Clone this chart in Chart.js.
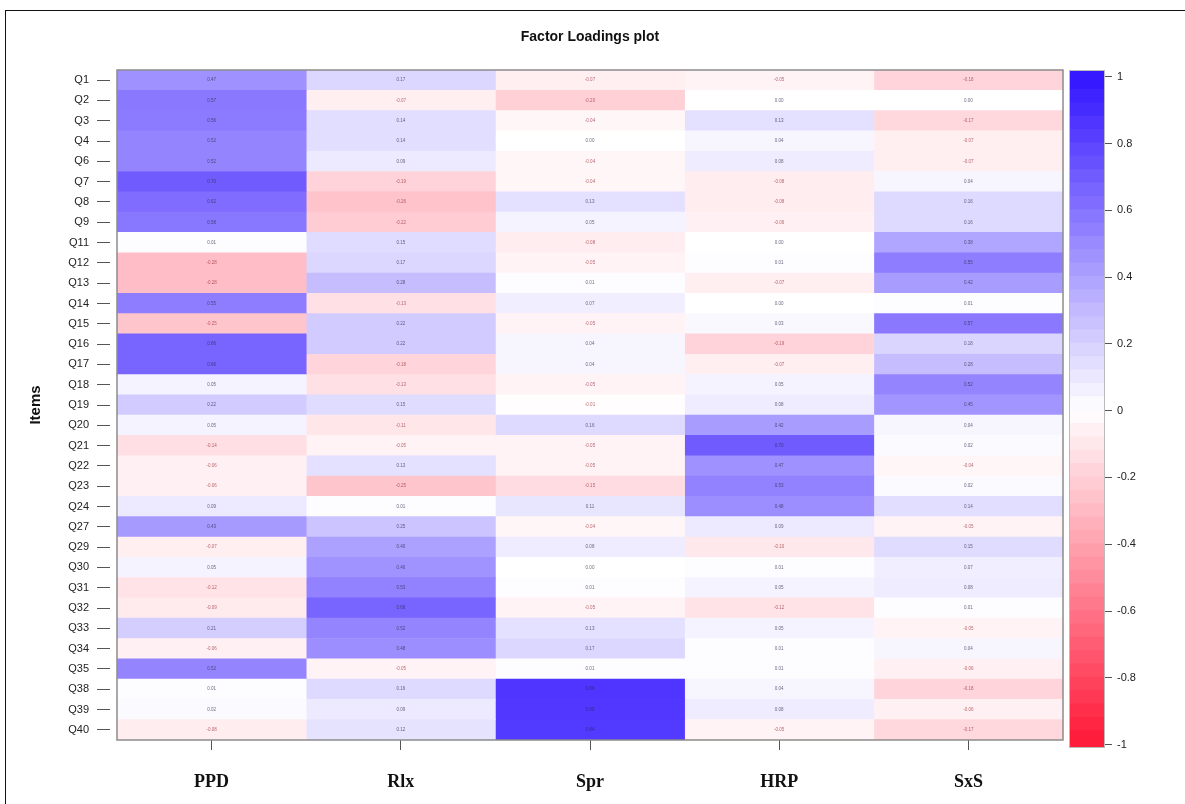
<!DOCTYPE html>
<html><head><meta charset="utf-8">
<script src="https://cdn.jsdelivr.net/npm/chart.js@4.4.1/dist/chart.umd.min.js"></script>
<style>
html,body{margin:0;padding:0;background:#fff;}
#wrap{position:relative;width:1185px;height:804px;overflow:hidden;background:#fff;}
#frame{position:absolute;left:5px;top:10px;width:1200px;height:820px;border-top:1.5px solid #111;border-left:1.5px solid #111;}
canvas{position:absolute;left:0;top:0;}
</style></head><body>
<div id="wrap"><div id="frame"></div>
<canvas id="main" width="1185" height="804"></canvas>
<canvas id="bar" width="1185" height="804"></canvas>
</div>
<script>
const titleText = 'Factor Loadings plot';
const yTitle = 'Items';
const items = ['Q1','Q2','Q3','Q4','Q6','Q7','Q8','Q9','Q11','Q12','Q13','Q14','Q15','Q16','Q17','Q18','Q19','Q20','Q21','Q22','Q23','Q24','Q27','Q29','Q30','Q31','Q32','Q33','Q34','Q35','Q38','Q39','Q40'];
const factors = ['PPD','Rlx','Spr','HRP','SxS'];
const PPD = [0.47,0.57,0.56,0.52,0.52,0.70,0.62,0.58, 0.01,-0.28,-0.28,0.55,-0.25,0.66,0.66,0.05,0.22, 0.05,-0.14,-0.06,-0.06,0.09, 0.43,-0.07,0.05,-0.12,-0.09,0.21,-0.06,0.52, 0.01,0.02,-0.08];
const Rlx = [0.17,-0.07,0.14,0.14,0.09,-0.19,-0.26,-0.22, 0.15,0.17,0.28,-0.13,0.22,0.22,-0.18,-0.13,0.15, -0.11,-0.05,0.13,-0.25,0.01, 0.25,0.40,0.46,0.53,0.66,0.52,0.48,-0.05, 0.16,0.09,0.12];
const Spr = [-0.07,-0.20,-0.04,0.00,-0.04,-0.04,0.13,0.05, -0.08,-0.05,0.01,0.07,-0.05,0.04,0.04,-0.05,-0.01, 0.16,-0.05,-0.05,-0.15,0.11, -0.04,0.08,0.00,0.01,-0.05,0.13,0.17,0.01, 0.86,0.85,0.84];
const HRP = [-0.05,0.00,0.13,0.04,0.08,-0.08,-0.08,-0.06, 0.00,0.01,-0.07,0.00,0.03,-0.19,-0.07,0.05,0.08, 0.42,0.70,0.47,0.53,0.48, 0.09,-0.10,0.01,0.05,-0.12,0.05,0.01,0.01, 0.04,0.08,-0.05];
const SxS = [-0.18,0.00,-0.17,-0.07,-0.07,0.04,0.16,0.16, 0.38,0.55,0.42,0.01,0.57,0.18,0.28,0.52,0.45, 0.04,0.02,-0.04,0.02,0.14, -0.05,0.15,0.07,0.08,0.01,-0.05,0.04,-0.06, -0.18,-0.06,-0.17];
const loadings = [PPD, Rlx, Spr, HRP, SxS];
const colorbarTicks = [-1,-0.8,-0.6,-0.4,-0.2,0,0.2,0.4,0.6,0.8,1];
const binStep = 0.04;

function loadingColor(v){
  v = Math.max(-1, Math.min(1, v));
  if (v >= 0) return `rgb(${Math.round(255-205*v)},${Math.round(255-235*v)},255)`;
  const a = -v;
  return `rgb(255,${Math.round(255-231*a)},${Math.round(255-199*a)})`;
}

const heatPlugin = {
  id: 'heat',
  afterDatasetsDraw(chart){
    const ctx = chart.ctx; ctx.save();
    ctx.font = '4.5px "Liberation Sans", Arial, sans-serif';
    ctx.textAlign = 'center'; ctx.textBaseline = 'middle';
    chart.data.datasets.forEach((ds, di) => {
      chart.getDatasetMeta(di).data.forEach((el, j) => {
        const v = ds.loadings[j];
        ctx.fillStyle = v < 0 ? 'rgba(150,40,50,0.7)' : 'rgba(40,40,70,0.7)';
        ctx.fillText(v.toFixed(2), (el.x + el.base) / 2, el.y);
      });
    });
    const a = chart.chartArea;
    ctx.strokeStyle = '#8c8c8c'; ctx.lineWidth = 1.5;
    ctx.strokeRect(a.left, a.top, a.right - a.left, a.bottom - a.top);
    ctx.fillStyle = '#111';
    ctx.font = 'bold 14px "Liberation Sans Narrow", "Liberation Sans", Arial, sans-serif';
    ctx.fillText(titleText, (a.left + a.right) / 2, 37);
    ctx.restore();
  }
};

new Chart(document.getElementById('main'), {
  type: 'bar',
  data: {
    labels: items,
    datasets: factors.map((f, i) => ({
      label: f,
      data: items.map(() => 1),
      loadings: loadings[i],
      backgroundColor: loadings[i].map(loadingColor),
      borderWidth: 0,
      barPercentage: 1,
      categoryPercentage: 1
    }))
  },
  options: {
    indexAxis: 'y',
    responsive: false,
    animation: false,
    layout: { padding: { left: 0, top: 70, right: 122, bottom: 0 } },
    plugins: { legend: { display: false }, tooltip: { enabled: false } },
    scales: {
      x: {
        type: 'linear', stacked: true, min: 0, max: 5,
        afterBuildTicks(s){ s.ticks = factors.map((f, i) => ({ value: i + 0.5 })); },
        ticks: {
          callback: (v) => factors[Math.floor(v)],
          font: { family: '"Liberation Serif", serif', weight: 'bold', size: 18 },
          color: '#111', padding: 22, autoSkip: false, maxRotation: 0
        },
        grid: { drawOnChartArea: false, tickLength: 10, color: '#555', lineWidth: 1 },
        border: { display: false },
        afterFit(s){ s.height = 64; }
      },
      y: {
        type: 'category', stacked: true,
        ticks: { font: { family: '"Liberation Sans", Arial, sans-serif', size: 11 }, color: '#222', padding: 8, autoSkip: false },
        grid: { drawOnChartArea: false, offset: false, tickLength: 20, tickBorderDash: [13, 7], color: '#555', lineWidth: 1 },
        border: { display: false },
        title: { display: true, text: yTitle, font: { family: '"Liberation Sans Narrow", "Liberation Sans", Arial, sans-serif', weight: 'bold', size: 15 }, color: '#111', padding: { top: 27, bottom: 0 } },
        afterFit(s){ s.width = 117; }
      }
    }
  },
  plugins: [heatPlugin]
});

const bins = [];
for (let k = 0; k < 50; k++) {
  const lo = -1 + k * binStep, hi = lo + binStep;
  bins.push({ range: [k === 0 ? -1.01 : lo, k === 49 ? 1.02 : hi + 0.002], mid: lo + binStep / 2 });
}
const framePlugin = {
  id: 'cbframe',
  afterDatasetsDraw(chart){
    const a = chart.chartArea, ctx = chart.ctx; ctx.save();
    ctx.strokeStyle = '#bbb'; ctx.lineWidth = 1;
    ctx.strokeRect(a.left + 0.5, a.top + 0.5, a.right - a.left - 1, a.bottom - a.top - 1);
    ctx.restore();
  }
};
new Chart(document.getElementById('bar'), {
  type: 'bar',
  data: {
    labels: [''],
    datasets: bins.map(b => ({
      data: [b.range], backgroundColor: loadingColor(b.mid), borderWidth: 0,
      grouped: false, barPercentage: 1, categoryPercentage: 1
    }))
  },
  options: {
    responsive: false, animation: false,
    layout: { padding: { left: 1069, right: 40, top: 70, bottom: 56 } },
    plugins: { legend: { display: false }, tooltip: { enabled: false } },
    scales: {
      x: { display: false },
      y: {
        position: 'right', min: -1.01, max: 1.02,
        afterBuildTicks(s){ s.ticks = colorbarTicks.map(v => ({ value: v })); },
        ticks: { callback: v => String(v), font: { family: '"Liberation Sans", Arial, sans-serif', size: 11 }, color: '#222', padding: 5 },
        grid: { drawOnChartArea: false, tickLength: 7, color: '#555' },
        border: { display: false },
        afterFit(s){ s.width = 40; }
      }
    }
  },
  plugins: [framePlugin]
});
</script>
</body></html>
